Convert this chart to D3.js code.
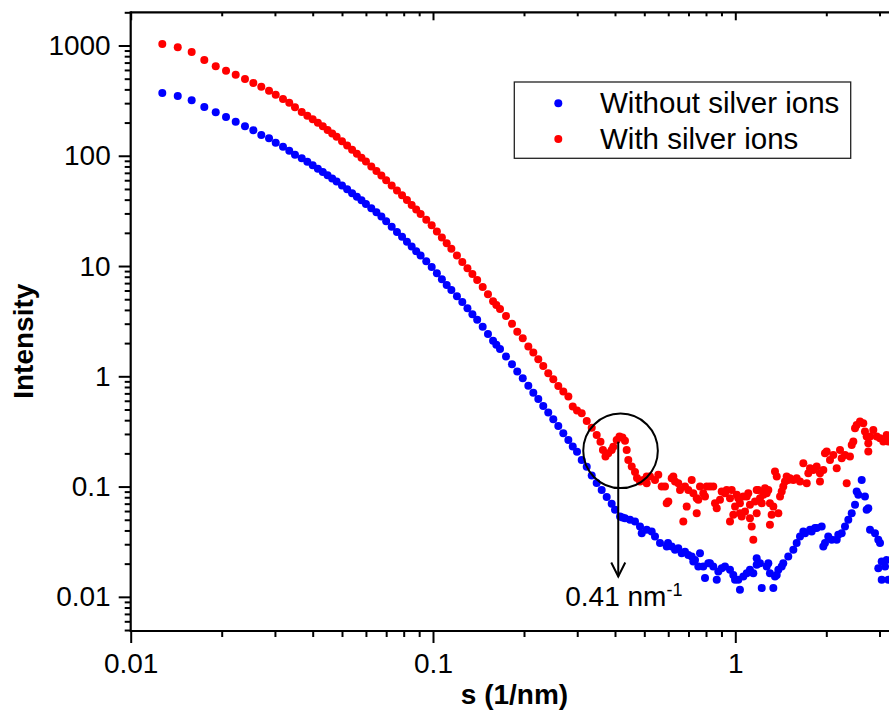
<!DOCTYPE html>
<html>
<head>
<meta charset="utf-8">
<script src="https://cdn.jsdelivr.net/npm/d3@7/dist/d3.min.js"></script>
<style>
  body { margin: 0; background: #fff; }
  svg { display: block; }
  text { font-family: "Liberation Sans", Arial, Helvetica, sans-serif; fill: #000; }
</style>
</head>
<body>
<svg id="chart" width="889" height="710"></svg>
<script>
// ---- scattering data: s (1/nm) and intensity ----
// common s grid of the smooth low-angle part (both samples)
const sLow = [0.01272,0.01431,0.01591,0.01752,0.01911,0.02067,0.02225,0.02388,0.02545,0.02704,0.02868,0.03018,0.0319,0.03346,0.03495,0.03679,
  0.0384,0.04,0.0416,0.0432,0.0448,0.0464,0.048,0.05,0.052,0.054,0.056,0.058,0.06,0.0625,0.065,0.0675,0.07,0.073,0.076,0.079,0.082,0.085,0.088,0.091,0.095,0.099,0.103,0.107,0.111,0.115,0.12,0.125,0.13,0.135,0.14,0.146,0.152,0.158,0.162,
  0.1666,0.1744,0.1825,0.19,0.1981,0.2067,0.2147,0.223,0.2316,0.2406,0.25,0.2597,0.2698,0.2804,0.2899,0.2995,0.3104,0.3225,0.335,0.3479];

// intensity without silver ions on sLow
const withoutLow = [371,348.5,318.6,277,248,224.8,203.8,185.1,170.3,154.4,144.1,131.5,120.9,111.2,102.3,94.9,
  88.1,82.0,76.4,71.3,66.6,62.3,58.4,53.8,49.6,45.8,42.5,39.4,36.6,33.5,30.7,28.1,25.5,22.7,20.4,18.4,16.6,15.0,13.65,12.45,11.05,9.81,8.60,7.59,6.74,6.06,5.33,4.71,4.15,3.66,3.25,2.81,2.42,2.10,1.93,
  1.77,1.509,1.287,1.103,0.961,0.823,0.711,0.624,0.539,0.469,0.408,0.355,0.305,0.265,0.2305,0.2064,0.1746,0.1509,0.1263,0.1080];

// intensity with silver ions on sLow
const withLow = [1032,963,873,739,648,591,544,497,457,423,389,358,327,303,275,249.5,
  231,214,199.5,185.1,171.7,159.3,148.4,135.6,124.0,113.6,104.5,96.1,88.6,80.0,72.6,66.2,60.0,53.8,48.4,43.8,39.6,35.8,32.6,29.7,26.3,23.4,20.6,18.1,16.1,14.35,12.48,10.87,9.57,8.45,7.48,6.46,5.55,4.79,4.44,
  4.08,3.53,2.99,2.54,2.215,1.859,1.640,1.429,1.242,1.067,0.941,0.818,0.727,0.655,0.531,0.489,0.463,0.394,0.341,0.294];

// wide-angle part, without silver ions
const withoutHighS = [0.3614,0.3755,0.39,0.4001,0.4156,0.4234,0.4316,0.4484,0.4658,0.4839,0.4903,0.5093,0.529,0.5425,0.5635,0.5931,0.599,0.6161,0.6318,0.6479,0.6649,0.6818,0.6991,0.7175,0.7263,0.7357,0.7544,0.7642,0.7836,0.794,
  0.8141,0.8246,0.8456,0.8681,0.8787,0.9016,0.9245,0.9605,0.9849,0.998,1.023,1.036,1.063,1.091,1.118,1.147,1.177,1.177,1.207,1.223,1.27,1.286,1.302,1.336,1.353,1.371,1.388,1.424,1.441,1.497,
  1.556,1.596,1.637,1.679,1.701,1.767,1.789,1.835,1.859,1.931,1.955,1.98,2.03,2.084,2.165,2.191,2.249,2.306,2.365,2.427,2.489,2.521,2.552,2.619,2.685,2.72,2.754,2.79,2.898,2.972,2.972,3.011,3.05,3.05,3.128,3.168,3.207];
const withoutHighI = [0.0933,0.0806,0.0697,0.0615,0.0534,0.0525,0.0517,0.0499,0.0482,0.0434,0.0378,0.0405,0.0391,0.0352,0.0307,0.0286,0.0308,0.0286,0.0267,0.0276,0.0249,0.0257,0.024,0.0232,0.0209,0.0216,0.0188,0.0249,0.0188,0.0148,
  0.0202,0.0202,0.0188,0.0143,0.017,0.0182,0.0188,0.0176,0.0158,0.0143,0.0143,0.0116,0.0153,0.0164,0.0176,0.0164,0.0224,0.0195,0.0202,0.012,0.0188,0.0202,0.0164,0.012,0.0153,0.0158,0.0176,0.0188,0.0202,0.0232,
  0.0267,0.0307,0.0352,0.0391,0.0378,0.0405,0.0391,0.042,0.042,0.0434,0.0286,0.0307,0.0352,0.0329,0.0329,0.0365,0.0378,0.0434,0.0499,0.0574,0.0683,0.0901,0.0841,0.115,0.0811,0.0615,0.0637,0.0405,0.0378,0.0329,0.0182,0.0307,0.0209,0.0143,0.0188,0.0216,0.0143];

// wide-angle part, with silver ions
const withHighS = [0.3581,0.3649,0.372,0.38,0.39,0.3948,0.4052,0.4139,0.4234,0.4316,0.4372,0.4426,0.4543,0.4658,0.473,0.4839,0.4963,0.5093,0.5093,0.5222,0.5425,0.5563,0.5709,0.5855,0.5931,0.6004,
  0.6161,0.6237,0.6318,0.6479,0.6564,0.673,0.6818,0.6906,0.6991,0.7175,0.7263,0.7454,0.7454,0.7544,0.7642,0.7836,0.794,0.8042,0.8246,0.8456,0.8567,0.8681,0.89,0.9016,0.9245,0.9367,0.9605,0.9605,0.973,0.9849,
  0.998,1.011,1.023,1.036,1.036,1.05,1.063,1.077,1.091,1.104,1.118,1.118,1.133,1.147,1.162,1.177,1.177,1.191,1.207,1.223,1.238,1.254,1.27,1.286,1.302,1.302,1.319,1.336,1.353,1.371,1.388,1.406,1.424,1.441,
  1.46,1.479,1.497,1.517,1.556,1.596,1.637,1.679,1.723,1.744,1.767,1.811,1.859,1.906,1.906,1.955,1.98,2.006,2.057,2.11,2.165,2.22,2.249,2.306,2.336,2.395,2.427,2.457,2.489,2.521,2.585,2.651,2.685,2.72,
  2.754,2.754,2.79,2.861,2.937,3.011,3.088,3.168,3.207];
const withHighI = [0.2543,0.2151,0.1878,0.2008,0.2151,0.2291,0.2651,0.2852,0.2793,0.2597,0.2151,0.1746,0.1518,0.1359,0.1199,0.111,0.115,0.1232,0.1074,0.1232,0.115,0.1277,0.1,0.1,0.0707,0.0731,
  0.1192,0.1232,0.111,0.1074,0.0933,0.0482,0.1,0.0659,0.0933,0.115,0.0871,0.0785,0.0574,0.0758,0.1,0.0871,0.0811,0.1,0.1,0.1,0.0707,0.0637,0.0758,0.0901,0.0871,0.0933,0.0785,0.0482,0.0933,0.0554,
  0.0659,0.0841,0.0785,0.0707,0.0574,0.0534,0.0811,0.0593,0.0811,0.0871,0.0683,0.0517,0.0434,0.0329,0.0731,0.0933,0.0574,0.0933,0.0785,0.0707,0.0841,0.0967,0.0871,0.0933,0.0707,0.045,0.0554,0.0659,0.1368,0.1232,0.0574,0.0811,0.0901,0.1,
  0.111,0.1232,0.115,0.1192,0.115,0.1192,0.111,0.163,0.1074,0.1323,0.1468,0.1417,0.1518,0.1323,0.111,0.1417,0.2008,0.2077,0.1746,0.1938,0.1468,0.2151,0.1809,0.1938,0.1074,0.1871,0.2388,0.2559,0.3384,0.3626,0.3884,0.3757,0.3152,0.284,
  0.2475,0.2077,0.284,0.3266,0.284,0.2747,0.2559,0.2942,0.2559];

const seriesNames = ["Without silver ions", "With silver ions"];
const seriesColors = ["#0000ff", "#ff0000"];

const xMajorTicks = [0.01, 0.1, 1];
const yMajorTicks = [0.01, 0.1, 1, 10, 100, 1000];
const peakS = 0.41;           // marked correlation peak, nm^-1
const peakLabel = "0.41 nm";

// ---- chart ----
const svg = d3.select("#chart");
svg.append("rect").attr("width", 889).attr("height", 710).attr("fill", "#fff");

const x = d3.scaleLog().domain([0.01, 4]).range([130.7, 917.3]);
const y = d3.scaleLog().domain([0.0049, 2000]).range([631, 12.3]);
const x0 = x.range()[0], x1 = x.range()[1];
const y0 = y.range()[0], y1 = y.range()[1];

const toPoints = (sArr, iArr) => sArr.map((s, k) => ({ s, i: iArr[k] }));
const series = [
  toPoints(sLow, withoutLow).concat(toPoints(withoutHighS, withoutHighI)),
  toPoints(sLow, withLow).concat(toPoints(withHighS, withHighI))
];

const plot = svg.append("g");
series.forEach((pts, k) => {
  plot.append("g").selectAll("circle").data(pts).join("circle")
    .attr("cx", d => x(d.s))
    .attr("cy", d => y(d.i))
    .attr("r", 4)
    .attr("fill", seriesColors[k]);
});

// ---- peak annotation ----
const ax = x(peakS);
const ann = svg.append("g").attr("stroke", "#000").attr("fill", "none");
ann.append("circle").attr("cx", ax + 2.3).attr("cy", 450.8).attr("r", 37.3).attr("stroke-width", 2);
const tipY = y(0.0153);
ann.append("line").attr("x1", ax).attr("x2", ax).attr("y1", y(0.255)).attr("y2", tipY).attr("stroke-width", 2);
ann.append("path").attr("d", `M${ax - 7},${tipY - 14} L${ax},${tipY} L${ax + 7},${tipY - 14}`).attr("stroke-width", 2);
const lbl = svg.append("text").attr("x", ax - 53).attr("y", 605.7).attr("font-size", 28);
lbl.append("tspan").text(peakLabel);
lbl.append("tspan").attr("font-size", 18).attr("dy", -10).text("-1");

// ---- axes ----
const axes = svg.append("g");
const fontSize = 28;

// minor ticks
const xMinor = x.ticks().filter(v => !xMajorTicks.includes(+v.toPrecision(6)));
const yMinor = y.ticks().filter(v => !yMajorTicks.includes(+v.toPrecision(6)));

function styleAxis(g) {
  g.select(".domain").remove();
  g.selectAll("line").attr("stroke", "#000").attr("stroke-width", 2);
  g.selectAll("text").attr("font-size", fontSize).attr("font-family", '"Liberation Sans", Arial, sans-serif').attr("fill", "#000");
}

axes.append("g").attr("transform", `translate(0,${y0})`)
  .call(d3.axisBottom(x).tickValues(xMinor).tickSize(6).tickFormat(""))
  .call(styleAxis);
axes.append("g").attr("transform", `translate(0,${y0})`)
  .call(d3.axisBottom(x).tickValues(xMajorTicks).tickSize(12).tickPadding(10).tickFormat(d3.format("~g")))
  .call(styleAxis);
axes.append("g").attr("transform", `translate(${x0},0)`)
  .call(d3.axisLeft(y).tickValues(yMinor).tickSize(6).tickFormat(""))
  .call(styleAxis);
axes.append("g").attr("transform", `translate(${x0},0)`)
  .call(d3.axisLeft(y).tickValues(yMajorTicks).tickSize(12).tickPadding(8).tickFormat(d3.format("~g")))
  .call(g => g.selectAll("text").attr("dy", "0.32em"))
  .call(styleAxis);

// top frame with inward ticks
axes.append("g").attr("transform", `translate(0,${y1})`)
  .call(d3.axisTop(x).tickValues(xMinor).tickSize(-4).tickFormat(""))
  .call(styleAxis);
axes.append("g").attr("transform", `translate(0,${y1})`)
  .call(d3.axisTop(x).tickValues(xMajorTicks).tickSize(-8).tickFormat(""))
  .call(styleAxis);

// axis lines
axes.append("line").attr("x1", x0).attr("x2", x1).attr("y1", y0).attr("y2", y0).attr("stroke", "#000").attr("stroke-width", 2.2);
axes.append("line").attr("x1", x0).attr("x2", x1).attr("y1", y1).attr("y2", y1).attr("stroke", "#000").attr("stroke-width", 2.2);
axes.append("line").attr("x1", x0).attr("x2", x0).attr("y1", y0 + 1.1).attr("y2", y1 - 1.1).attr("stroke", "#000").attr("stroke-width", 2.2);

// axis titles
svg.append("text").attr("x", 514.5).attr("y", 704).attr("text-anchor", "middle")
  .attr("font-size", 28).attr("font-weight", "bold").text("s (1/nm)");
svg.append("text").attr("transform", "translate(32.7,341.2) rotate(-90)").attr("text-anchor", "middle")
  .attr("font-size", 28).attr("font-weight", "bold").text("Intensity");

// ---- legend ----
const leg = svg.append("g");
leg.append("rect").attr("x", 514.3).attr("y", 82).attr("width", 336.4).attr("height", 76.3)
  .attr("fill", "#fff").attr("stroke", "#222").attr("stroke-width", 1.3);
seriesNames.forEach((name, k) => {
  const cy = 103.3 + k * 35.7;
  leg.append("circle").attr("cx", 558.3).attr("cy", cy).attr("r", 4).attr("fill", seriesColors[k]);
  leg.append("text").attr("x", 600).attr("y", cy + 10).attr("font-size", 29.5).text(name);
});
</script>
</body>
</html>
